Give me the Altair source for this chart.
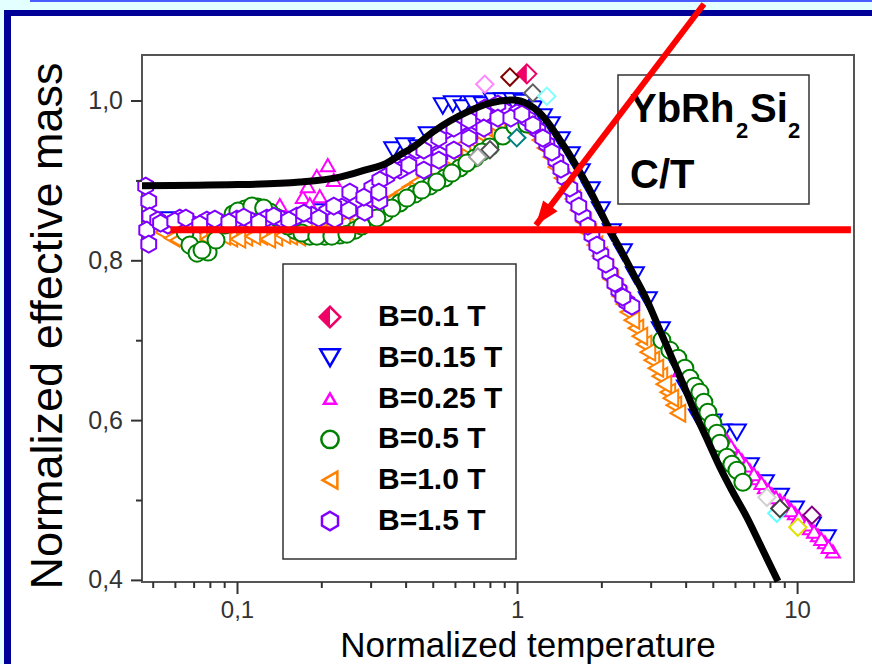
import altair as alt
import pandas as pd

# ---------------- data ----------------
# B = 0.1 T
b01_x = [1.079]
b01_y = [1.034]

# B = 0.15 T
b015_x = [0.0573, 0.1106, 0.197, 0.2733, 0.3598, 0.3959, 0.4405, 0.478, 0.5408, 0.5873,
          0.6375, 0.6924, 0.7517, 0.8162, 0.886, 0.9621, 1.0445, 1.134, 1.231,
          1.314, 1.427, 1.549, 1.682, 1.826, 1.983, 2.170, 2.377, 2.624, 2.919,
          3.248, 3.615, 3.991, 4.405, 4.983, 5.411, 6.071, 6.753, 7.643,
          8.645, 9.781, 11.25, 12.72]
b015_y = [0.851, 0.8535, 0.861, 0.875, 0.9386, 0.9436, 0.9411, 0.9574, 0.9937, 0.9962,
          0.9912, 0.9962, 0.995, 1.0, 1.0, 1.0, 0.998, 0.99, 0.98,
          0.97, 0.9512, 0.9324, 0.9111, 0.8885, 0.8635, 0.8359, 0.8109, 0.7821, 0.7508,
          0.7132, 0.6756, 0.6406, 0.6043, 0.598, 0.5855, 0.5855, 0.543, 0.522,
          0.505, 0.489, 0.469, 0.453]

# B = 0.25 T
b025_x = [0.1202, 0.1416, 0.1711, 0.1783, 0.1919, 0.2101, 0.2207, 0.1967, 0.1812, 0.8503,
          3.8, 4.298, 4.745, 4.983, 5.279, 5.591, 5.972, 6.326, 6.753, 7.215,
          7.643, 8.092, 8.645, 9.234, 9.781, 10.45, 11.07, 11.82, 12.52, 13.37,
          4.86, 5.43, 5.78, 6.15, 6.54, 6.98, 7.43, 7.86, 8.37, 8.94,
          9.5, 10.1, 10.75, 11.45, 12.15, 12.9]
b025_y = [0.861, 0.8698, 0.8798, 0.8935, 0.9061, 0.9198, 0.9011, 0.881, 0.871, 0.9537,
          0.6631, 0.6356, 0.6193, 0.603, 0.588, 0.5754, 0.5604, 0.5504, 0.5379, 0.5279,
          0.5166, 0.5078, 0.5003, 0.4928, 0.484, 0.474, 0.4653, 0.4565, 0.4477, 0.4364,
          0.611, 0.582, 0.568, 0.555, 0.544, 0.533, 0.522, 0.512, 0.504, 0.497,
          0.488, 0.479, 0.47, 0.461, 0.452, 0.442]

# B = 0.5 T
b05_x = [0.0650, 0.0676, 0.0717, 0.0785, 0.0838, 0.0902, 0.0964, 0.1062, 0.1181, 0.1304,
         0.1439, 0.1601, 0.1812, 0.205, 0.232, 0.2628, 0.297, 0.3357, 0.3798, 0.4297,
         0.486, 0.55, 0.6222, 0.7038, 0.796, 0.886, 0.978, 1.079,
         3.277, 3.499, 3.737, 3.959, 4.125, 4.298, 4.479, 4.629, 4.782, 4.983,
         5.151, 5.279, 5.591, 5.827, 6.071, 6.377,
         0.0747, 0.1003, 0.1125, 0.1240, 0.1371, 0.1512, 0.1697, 0.1919, 0.2172, 0.2458,
         0.2779, 0.3144, 0.3557, 0.4024, 0.4551, 0.5149, 0.5825, 0.659, 0.7455]
b05_y = [0.8359, 0.8197, 0.8096, 0.8109, 0.8259, 0.8447, 0.8585, 0.8647, 0.8672, 0.861,
         0.8485, 0.8384, 0.8309, 0.8309, 0.8322, 0.8384, 0.8485, 0.8597, 0.8723, 0.8835,
         0.8935, 0.9036, 0.9161, 0.9286, 0.9424, 0.9562, 0.9687, 0.9712,
         0.7007, 0.6882, 0.6781, 0.6656, 0.6531, 0.6431, 0.6356, 0.623, 0.6105, 0.5967,
         0.5842, 0.5717, 0.5542, 0.5454, 0.5379, 0.5229,
         0.8134, 0.8622, 0.8685, 0.866, 0.8547, 0.8435, 0.8347, 0.8309, 0.8309, 0.8334,
         0.8435, 0.8535, 0.866, 0.8785, 0.8885, 0.8986, 0.9098, 0.9224, 0.9361]

# B = 1.0 T
b10_x = [0.0541, 0.0583, 0.0648, 0.0733, 0.0830, 0.0939, 0.1062, 0.1202, 0.1359, 0.1537,
         0.1739, 0.1967, 0.2226, 0.2518, 0.2848, 0.3222, 0.3646, 0.4124, 0.4666, 0.5279,
         0.5972, 0.6756, 0.7642, 0.8503, 0.9386, 1.036, 1.143, 1.252, 1.370, 1.500,
         1.642, 1.797, 1.967, 2.153, 2.319, 2.477, 2.646, 2.826, 3.017, 3.222,
         3.441, 3.616, 3.737,
         0.0612, 0.0694, 0.0785, 0.0886, 0.1003, 0.1134, 0.1283, 0.1451, 0.1642, 0.1857,
         0.2101, 0.2377, 0.2689, 0.3042, 0.3441, 0.3894, 0.4405, 0.4983, 0.5637, 0.6375,
         0.7214, 0.8094, 0.986, 1.0884, 1.201, 1.315, 1.440, 1.576, 1.725, 1.888,
         2.067, 2.244, 2.396, 2.56, 2.734, 2.920, 3.118, 3.330, 3.527]
b10_y = [0.8359, 0.8284, 0.8309, 0.8284, 0.8309, 0.8284, 0.8297, 0.8309, 0.8297, 0.8309,
         0.8334, 0.8372, 0.8422, 0.8497, 0.8585, 0.8685, 0.8798, 0.8923, 0.9061, 0.9211,
         0.9374, 0.9524, 0.9662, 0.975, 0.98, 0.975, 0.9612, 0.9411, 0.9173, 0.891,
         0.8635, 0.8347, 0.8059, 0.7771, 0.7558, 0.7358, 0.7157, 0.6957, 0.6756, 0.6556,
         0.6356, 0.6193, 0.6093,
         0.8259, 0.8322, 0.8272, 0.8309, 0.8272, 0.8309, 0.8272, 0.8322, 0.8297, 0.8359,
         0.8397, 0.846, 0.8535, 0.8635, 0.8735, 0.886, 0.8986, 0.9136, 0.9286, 0.9449,
         0.96, 0.9712, 0.9787, 0.9687, 0.9512, 0.9299, 0.9036, 0.8773, 0.8485, 0.8197,
         0.7909, 0.7658, 0.7458, 0.7257, 0.7057, 0.6857, 0.6656, 0.6456, 0.6281]

# B = 1.5 T
b15_x = [0.0470, 0.0482, 0.0486, 0.0474, 0.0482, 0.0519, 0.0564, 0.0622, 0.0692, 0.0777,
         0.0879, 0.0994, 0.1125, 0.1272, 0.1439, 0.1628, 0.1842, 0.2084, 0.2357, 0.2667,
         0.3017, 0.3413, 0.3861, 0.4368, 0.4942, 0.5591, 0.6325, 0.7155, 0.8094, 0.9007,
         0.9943, 1.0884, 1.1815, 1.2722, 1.370, 1.4755, 1.589, 1.711, 1.843, 1.984,
         2.136, 2.300, 2.457, 2.560,
         0.2226, 0.2518, 0.2848, 0.3222, 0.3222, 0.3646, 0.3804, 0.5279, 0.6756, 0.7642, 0.8504,
         0.0531, 0.0597, 0.0654, 0.0733, 0.0830, 0.0931, 0.1053, 0.1191, 0.1347, 0.1524,
         0.1725, 0.1951, 0.2207, 0.2497, 0.2825, 0.3196, 0.3616, 0.4091, 0.4627, 0.4627,
         0.5235, 0.5235, 0.5922, 0.5922, 0.6701, 0.6701, 0.7580, 0.7580, 0.8504, 0.9464,
         1.036, 1.134, 1.231, 1.326, 1.428, 1.537, 1.655, 1.783, 1.919, 2.067,
         2.226, 2.377]
b15_y = [0.8936, 0.8748, 0.856, 0.8384, 0.8209, 0.851, 0.8447, 0.8535, 0.846, 0.851,
         0.8472, 0.8522, 0.8497, 0.8535, 0.8522, 0.856, 0.8572, 0.861, 0.8672, 0.8748,
         0.891, 0.9061, 0.9224, 0.9386, 0.9512, 0.9637, 0.9737, 0.9812, 0.985, 0.9875,
         0.985, 0.9775, 0.9637, 0.9461, 0.9261, 0.9036, 0.8798, 0.856, 0.8322, 0.8084,
         0.7846, 0.7633, 0.7483, 0.7433,
         0.8522, 0.886, 0.861, 0.8747, 0.9011, 0.9198, 0.9136, 0.9324, 0.9574, 0.9912, 0.9962,
         0.8472, 0.8497, 0.8535, 0.846, 0.8522, 0.8485, 0.8547, 0.8485, 0.856, 0.851,
         0.8597, 0.8535, 0.8685, 0.8635, 0.8798, 0.886, 0.9136, 0.9198, 0.9386, 0.9136,
         0.9537, 0.9261, 0.9662, 0.9386, 0.9762, 0.9537, 0.9837, 0.9662, 0.9787, 0.9787,
         0.9837, 0.97, 0.9537, 0.9361, 0.9148, 0.891, 0.8685, 0.8435, 0.8197, 0.7959,
         0.7721, 0.7545]

# other measurements (not in the legend)
extra_x = [0.764, 0.939, 1.134, 1.272, 0.994, 0.797, 0.721, 7.77, 8.43, 10.02, 11.25, 8.645]
extra_y = [1.021, 1.030, 1.010, 1.006, 0.954, 0.939, 0.930, 0.504, 0.484, 0.4665, 0.4815, 0.490]
extra_c = ["#FF88FF", "#800000", "#606060", "#80FFFF", "#008080", "#505050", "#A0A0A0",
           "#D0D0D0", "#60FFFF", "#E0E000", "#800080", "#404040"]

# black theory curve
curve_x = [0.0456, 0.1, 0.1669, 0.232, 0.2848, 0.3413, 0.3798, 0.4297, 0.4983, 0.5731,
           0.659, 0.796, 0.9621, 1.0884, 1.201, 1.304, 1.416, 1.537, 1.669, 1.812,
           1.967, 2.153, 2.358, 2.603, 2.896, 3.222, 3.586, 3.959, 4.370, 4.822,
           5.279, 5.874, 6.59, 7.459, 8.511]
curve_y = [0.894, 0.8954, 0.8986, 0.9048, 0.9136, 0.9224, 0.9324, 0.9436, 0.9612, 0.975,
           0.9862, 0.9975, 1.0013, 0.9962, 0.985, 0.97, 0.9512, 0.9324, 0.9111, 0.8885,
           0.8635, 0.8359, 0.8109, 0.7821, 0.7508, 0.7132, 0.6756, 0.6406, 0.6043, 0.5717,
           0.5416, 0.5103, 0.479, 0.4402, 0.3989]

# red annotation (data coordinates)
red_h_x = [0.0576, 15.5]
red_h_y = [0.839]
arrow_start = [4.63, 1.1215]
arrow_tip = [1.163, 0.8447]

legend_labels = ["B=0.1 T", "B=0.15 T", "B=0.25 T", "B=0.5 T", "B=1.0 T", "B=1.5 T"]

x_tick_values = [0.1, 1, 10]
x_tick_labels = ["0,1", "1", "10"]
x_minor_values = [0.05, 0.06, 0.07, 0.08, 0.09, 0.2, 0.3, 0.4, 0.5, 0.6, 0.7, 0.8, 0.9,
                  2, 3, 4, 5, 6, 7, 8, 9]
y_tick_values = [0.4, 0.6, 0.8, 1.0]
y_tick_labels = ["0,4", "0,6", "0,8", "1,0"]
y_minor_values = [0.5, 0.7, 0.9]

# ---------------- layout / styles ----------------
W, H = 712, 527
PL, PT = 142, 55
FONT = "Liberation Sans"
XS = alt.Scale(type="log", domain=[0.0456, 15.9], nice=False)
YS = alt.Scale(domain=[0.398, 1.0576], nice=False, zero=False)

HEX = "M0,-1L0.87,-0.5L0.87,0.5L0,1L-0.87,0.5L-0.87,-0.5Z"
HALF_DIAMOND = "M0,-1L-1,0L0,1Z"
ARROW = "M0,0L-0.375,-1L0.375,-1Z"

C01, C015, C025, C05, C10, C15 = "#EE0066", "#0000FF", "#FF00FF", "#008000", "#FF8000", "#8000FF"
TICK_C = "#333333"

one = pd.DataFrame({"k": [0]})


def enc_xy():
    return dict(x=alt.X("x:Q", scale=XS, axis=None), y=alt.Y("y:Q", scale=YS, axis=None))


def rect(x0, x1, y0, y1, fill, stroke=None, sw=0):
    kw = dict(fill=fill, opacity=1, strokeWidth=sw)
    if stroke:
        kw["stroke"] = stroke
    return alt.Chart(one).mark_rect(**kw).encode(
        x=alt.value(x0 - PL), x2=alt.value(x1 - PL),
        y=alt.value(y0 - PT), y2=alt.value(y1 - PT))


def scatter(xs, ys, shape, color, size, sw=2):
    df = pd.DataFrame({"x": xs, "y": ys})
    return alt.Chart(df).mark_point(shape=shape, filled=True, fill="white", stroke=color,
                                    strokeWidth=sw, size=size, opacity=1, fillOpacity=1).encode(**enc_xy())


def half(xs, ys, color, size):
    df = pd.DataFrame({"x": xs, "y": ys})
    return alt.Chart(df).mark_point(shape=HALF_DIAMOND, filled=True, fill=color, strokeWidth=0,
                                    size=size, opacity=1).encode(**enc_xy())


def text(s, x, y, size, bold=True, align="left", baseline="alphabetic", angle=0):
    kw = dict(font=FONT, fontSize=size, fontWeight="bold" if bold else "normal",
              align=align, baseline=baseline, color="black")
    if angle:
        kw["angle"] = angle
    return alt.Chart(one).mark_text(text=s, **kw).encode(x=alt.value(x), y=alt.value(y))


layers = []
# slide decoration
layers.append(rect(0, 872, 0, 10, "#E4FFFF"))
layers.append(rect(0, 4, 0, 664, "#E4FFFF"))
layers.append(rect(30, 872, 0, 2, "#4A5CFF"))
layers.append(rect(4, 872, 10, 16, "#000099"))
layers.append(rect(4, 11, 10, 664, "#000099"))

# boxes
layers.append(rect(283, 516, 264, 559, "white", "#333333", 1.5))
layers.append(rect(618, 809, 75, 204, "white", "#333333", 1.5))

# data
layers.append(scatter(b015_x, b015_y, "triangle-down", C015, 324))
layers.append(scatter(b025_x, b025_y, "triangle-up", C025, 196))
layers.append(scatter(b10_x, b10_y, "triangle-left", C10, 289))
layers.append(scatter(b05_x, b05_y, "circle", C05, 289))
layers.append(scatter(b15_x, b15_y, HEX, C15, 289))
layers.append(scatter(b01_x, b01_y, "diamond", C01, 361))
layers.append(half(b01_x, b01_y, C01, 361))
extra_df = pd.DataFrame({"x": extra_x, "y": extra_y, "c": extra_c})
layers.append(alt.Chart(extra_df).mark_point(shape="diamond", filled=True, fill="white", strokeWidth=2,
                                             size=300, opacity=1).encode(
    stroke=alt.Stroke("c:N", scale=None), **enc_xy()))

curve_df = pd.DataFrame({"x": curve_x, "y": curve_y})
layers.append(alt.Chart(curve_df).mark_line(color="black", strokeWidth=7, interpolate="monotone").encode(**enc_xy()))

# axes: major / minor ticks and labels
layers.append(alt.Chart(pd.DataFrame({"v": x_tick_values})).mark_rule(color=TICK_C, strokeWidth=2).encode(
    x=alt.X("v:Q", scale=XS, axis=None), y=alt.value(H), y2=alt.value(H + 12)))
layers.append(alt.Chart(pd.DataFrame({"v": x_minor_values})).mark_rule(color=TICK_C, strokeWidth=2).encode(
    x=alt.X("v:Q", scale=XS, axis=None), y=alt.value(H), y2=alt.value(H + 6)))
layers.append(alt.Chart(pd.DataFrame({"v": y_tick_values})).mark_rule(color=TICK_C, strokeWidth=2).encode(
    y=alt.Y("v:Q", scale=YS, axis=None), x=alt.value(0), x2=alt.value(-11)))
layers.append(alt.Chart(pd.DataFrame({"v": y_minor_values})).mark_rule(color=TICK_C, strokeWidth=2).encode(
    y=alt.Y("v:Q", scale=YS, axis=None), x=alt.value(0), x2=alt.value(-6)))
layers.append(alt.Chart(pd.DataFrame({"v": x_tick_values, "t": x_tick_labels})).mark_text(
    font=FONT, fontSize=24, color=TICK_C, align="center", baseline="top").encode(
    x=alt.X("v:Q", scale=XS, axis=None), y=alt.value(H + 17), text="t:N"))
layers.append(alt.Chart(pd.DataFrame({"v": y_tick_values, "t": y_tick_labels})).mark_text(
    font=FONT, fontSize=25, color=TICK_C, align="right", baseline="middle").encode(
    y=alt.Y("v:Q", scale=YS, axis=None), x=alt.value(-19), text="t:N"))

# axis titles
layers.append(text("Normalized temperature", 386, 602, 35, bold=False, align="center"))
layers.append(text("Normalized effective mass", -80, 271, 45, bold=False, align="center", angle=270))

# legend
LX_SYM, LX_TXT, LY0, LDY = 330 - PL, 378 - PL, 317 - PT, 40.8
rows = [LY0 + i * LDY for i in range(len(legend_labels))]
leg_specs = [("diamond", C01, 420), ("triangle-down", C015, 380), ("triangle-up", C025, 144),
             ("circle", C05, 300), ("triangle-left", C10, 289), (HEX, C15, 340)]
for i, (shp, col, sz) in enumerate(leg_specs):
    layers.append(alt.Chart(one).mark_point(shape=shp, filled=True, fill="white", stroke=col, strokeWidth=2.5,
                                            size=sz, opacity=1).encode(x=alt.value(LX_SYM), y=alt.value(rows[i])))
layers.append(alt.Chart(one).mark_point(shape=HALF_DIAMOND, filled=True, fill=C01, strokeWidth=0, size=420,
                                        opacity=1).encode(x=alt.value(LX_SYM), y=alt.value(rows[0])))
leg_df = pd.DataFrame({"label": legend_labels, "py": rows})
layers.append(alt.Chart(leg_df).mark_text(font=FONT, fontSize=30, fontWeight="bold", align="left",
                                          baseline="middle", color="black").encode(
    x=alt.value(LX_TXT), y=alt.Y("py:Q", scale=None), text="label:N"))

# compound label
layers.append(text("YbRh", 630 - PL, 122 - PT, 40))
layers.append(text("2", 736 - PL, 138 - PT, 22))
layers.append(text("Si", 750 - PL, 122 - PT, 40))
layers.append(text("2", 788 - PL, 138 - PT, 22))
layers.append(text("C/T", 630 - PL, 188 - PT, 40))

# red annotation
layers.append(alt.Chart(pd.DataFrame({"x": [red_h_x[0]], "x2": [red_h_x[1]], "y": red_h_y})).mark_rule(
    color="#FF0000", strokeWidth=7).encode(
    x=alt.X("x:Q", scale=XS, axis=None), x2="x2:Q", y=alt.Y("y:Q", scale=YS, axis=None)))
layers.append(alt.Chart(pd.DataFrame({"x": [arrow_start[0]], "y": [arrow_start[1]],
                                      "x2": [arrow_tip[0]], "y2": [arrow_tip[1]]})).mark_rule(
    color="#FF0000", strokeWidth=6).encode(
    x=alt.X("x:Q", scale=XS, axis=None), y=alt.Y("y:Q", scale=YS, axis=None), x2="x2:Q", y2="y2:Q"))
layers.append(alt.Chart(pd.DataFrame({"x": [arrow_tip[0]], "y": [arrow_tip[1]]})).mark_point(
    shape=ARROW, filled=True, color="#FF0000", strokeWidth=0, size=2304, angle=37, opacity=1).encode(**enc_xy()))

chart = alt.layer(*layers).properties(
    width=W, height=H, autosize=alt.AutoSizeParams(type="none"),
    padding={"left": PL, "top": PT, "right": 872 - PL - W, "bottom": 664 - PT - H},
    background="white",
).configure_view(stroke="#555555", strokeWidth=2)

chart.save("out.html", embed_options={"renderer": "svg", "actions": False})
